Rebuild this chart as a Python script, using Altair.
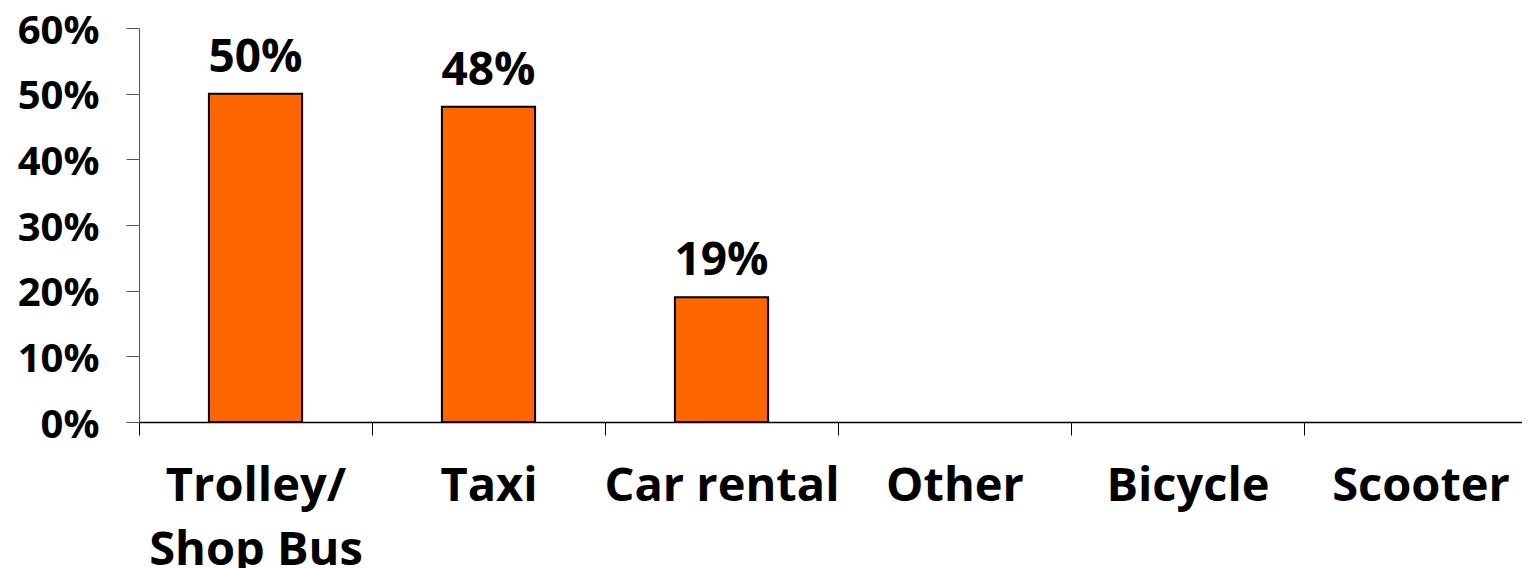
import altair as alt
import pandas as pd

categories = ["Trolley/ Shop Bus", "Taxi", "Car rental", "Other", "Bicycle", "Scooter"]
shares = [0.50, 0.48, 0.19, 0.0, 0.0, 0.0]
y_ticks = [0, 0.1, 0.2, 0.3, 0.4, 0.5, 0.6]

df = pd.DataFrame({"mode": categories, "share": shares})

FONT = "Open Sans"

x = alt.X(
    "mode:N",
    sort=categories,
    scale=alt.Scale(domain=categories, paddingInner=0, paddingOuter=0),
    axis=alt.Axis(
        title=None,
        labelAngle=0,
        tickBand="extent",
        labelFont=FONT,
        labelFontSize=47,
        labelFontWeight="bold",
        labelColor="black",
        labelPadding=28,
        labelLineHeight=64,
        labelLimit=0,
        labelExpr="datum.label == 'Trolley/ Shop Bus' ? ['Trolley/', 'Shop Bus'] : datum.label",
        tickSize=13,
        tickColor="black",
        tickWidth=1,
        domainColor="black",
        domainWidth=1.5,
    ),
)

y = alt.Y(
    "share:Q",
    scale=alt.Scale(domain=[0, 0.6], nice=False),
    axis=alt.Axis(
        title=None,
        values=y_ticks,
        format=".0%",
        grid=False,
        labelFont=FONT,
        labelFontSize=40,
        labelFontWeight="bold",
        labelColor="black",
        labelPadding=27,
        labelOffset=3,
        tickSize=13,
        tickColor="#555555",
        domainColor="#555555",
    ),
)

base = alt.Chart(df).transform_filter("datum.share > 0")

bars = base.mark_bar(
    color="#FF6600", stroke="black", strokeWidth=2, width=alt.RelativeBandSize(0.4)
).encode(x=x, y=y)

labels = base.mark_text(
    font=FONT, fontSize=46, fontWeight="bold", color="black", baseline="alphabetic", dy=-22
).encode(
    x=alt.X("mode:N", sort=categories),
    y="share:Q",
    text=alt.Text("share:Q", format=".0%"),
)

chart = (
    alt.layer(bars, labels)
    .properties(
        width=1398,
        height=394,
        autosize=alt.AutoSizeParams(type="none"),
        padding={"left": 131, "top": 20, "right": -15, "bottom": 146},
    )
    .configure_view(stroke=None)
)

chart.save("out.html", embed_options={"renderer": "svg", "actions": False})
